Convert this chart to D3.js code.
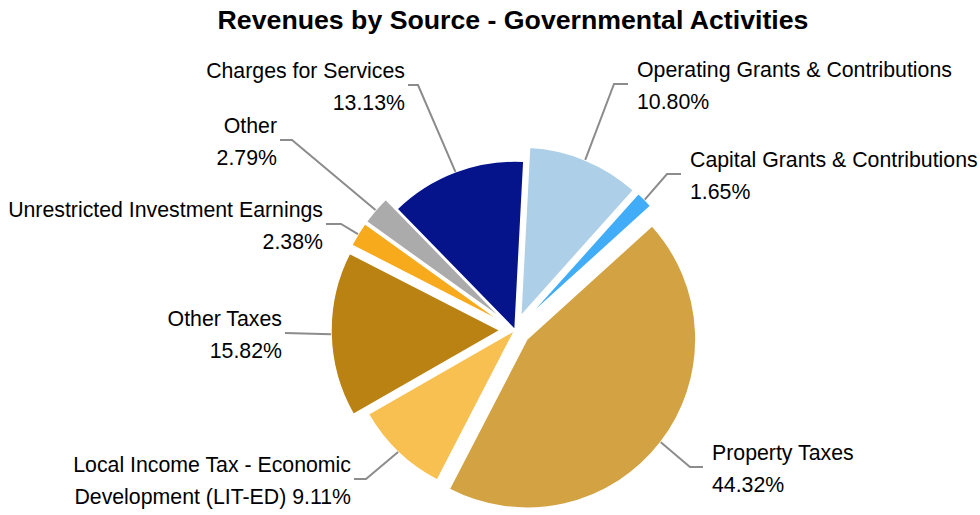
<!DOCTYPE html>
<html><head><meta charset="utf-8">
<script src="https://cdn.jsdelivr.net/npm/d3@7"></script>
<style>body{margin:0;background:#fff}svg{display:block}</style>
</head><body>
<svg id="c" width="980" height="515"></svg>
<script>
const categories = ["Operating Grants & Contributions","Capital Grants & Contributions","Property Taxes","Local Income Tax - Economic Development (LIT-ED)","Other Taxes","Unrestricted Investment Earnings","Other","Charges for Services"];
const values = [10.80, 1.65, 44.32, 9.11, 15.82, 2.38, 2.79, 13.13];
const labelLine1 = ["Operating Grants & Contributions","Capital Grants & Contributions","Property Taxes","Local Income Tax - Economic","Other Taxes","Unrestricted Investment Earnings","Other","Charges for Services"];
const labelLine2 = ["10.80%","1.65%","44.32%","Development (LIT-ED) 9.11%","15.82%","2.38%","2.79%","13.13%"];
const exploded = [true, true, true, false, true, true, true, false];
const colors = ["#aecfe8","#41acf8","#d3a343","#f8c050","#b98212","#f6aa1c","#ababab","#05148b"];

// layout for labels: text x, first line centre y, anchor, elbow x
const labelLayout = [
  {x:637, y:70, anchor:"start", ex:614},
  {x:690, y:160, anchor:"start", ex:667},
  {x:712, y:453, anchor:"start", ex:690},
  {x:351, y:465, anchor:"end", ex:366},
  {x:282, y:319, anchor:"end", ex:null},
  {x:323, y:210, anchor:"end", ex:341},
  {x:277, y:126, anchor:"end", ex:292},
  {x:405, y:71, anchor:"end", ex:418}
];

const svg = d3.select("#c");
const cx = 515, cy = 330, R = 169, off = 15;
const start = 3 * Math.PI / 180;

svg.append("text").attr("x", 513).attr("y", 20).attr("text-anchor","middle")
  .attr("dominant-baseline","central")
  .style("font-family","'Liberation Sans', Arial, sans-serif").style("font-weight","bold")
  .style("font-size","26.7px").attr("fill","#000")
  .text("Revenues by Source - Governmental Activities");

const pie = d3.pie().sort(null).value(d => d).startAngle(start).endAngle(start + 2*Math.PI);
const arcs = pie(values);
const arc = d3.arc().innerRadius(0).outerRadius(R);

const g = svg.append("g").attr("transform", `translate(${cx},${cy})`);

function offsetOf(d, i) {
  const m = (d.startAngle + d.endAngle) / 2;
  const o = exploded[i] ? off : 0;
  return [Math.sin(m) * o, -Math.cos(m) * o];
}

g.selectAll("path.slice").data(arcs).join("path")
  .attr("class","slice")
  .attr("d", arc)
  .attr("fill", (d,i) => colors[i])
  .attr("stroke","#fff").attr("stroke-width",1.5)
  .attr("transform", (d,i) => { const o = offsetOf(d,i); return `translate(${o[0]},${o[1]})`; });

// leader lines
arcs.forEach((d,i) => {
  const m = (d.startAngle + d.endAngle) / 2;
  const o = offsetOf(d,i);
  const px = cx + o[0] + Math.sin(m) * R;
  const py = cy + o[1] - Math.cos(m) * R;
  const L = labelLayout[i];
  const ly = L.y + 14;
  const tx = L.anchor === "end" ? L.x + 3 : L.x - 9;
  const pts = L.ex === null ? [[tx, ly],[px, py]] : [[tx, ly],[L.ex, ly],[px, py]];
  svg.append("path").attr("d", d3.line()(pts))
    .attr("fill","none").attr("stroke","#8c8c8c").attr("stroke-width",2);
});

arcs.forEach((d,i) => {
  const L = labelLayout[i];
  const t = svg.append("text").attr("text-anchor", L.anchor)
    .style("font-family","'Liberation Sans', Arial, sans-serif").style("font-size","21.3px").attr("fill","#000");
  t.append("tspan").attr("x", L.x).attr("y", L.y).attr("dominant-baseline","central").text(labelLine1[i]);
  t.append("tspan").attr("x", L.x).attr("y", L.y + 32).attr("dominant-baseline","central").text(labelLine2[i]);
});
</script>
</body></html>
